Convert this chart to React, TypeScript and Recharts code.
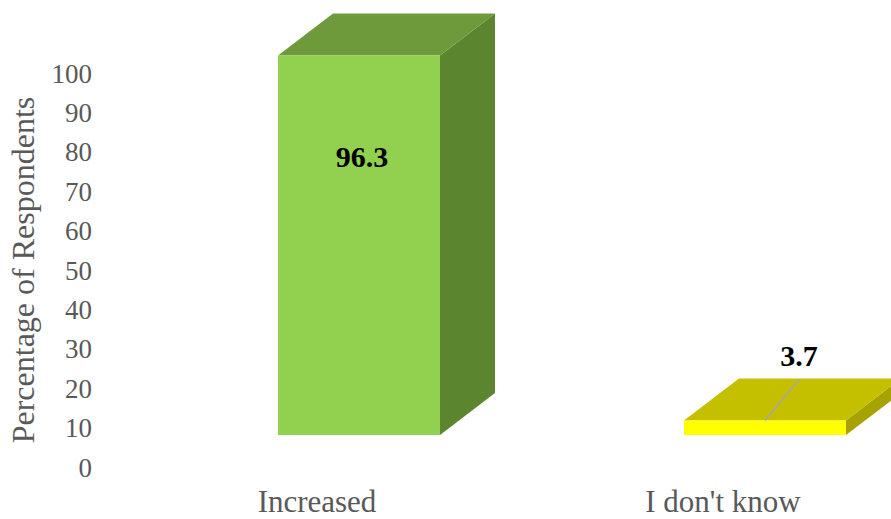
import { BarChart, Bar, XAxis, YAxis } from 'recharts'

const categories = ['Increased', "I don't know"]
const percentages = [96.3, 3.7]
const yTicks = [0, 10, 20, 30, 40, 50, 60, 70, 80, 90, 100]

const frontColors = ['#92d050', '#ffff00']
const topColors = ['#6f9a3b', '#c4c000']
const sideColors = ['#5c8530', '#a6a200']

const data = categories.map((name, i) => ({ name, value: percentages[i] }))

const FONT = '"Liberation Serif", "Times New Roman", serif'
// depth of the fake 3D extrusion, and how far the front floor sits above the 0 tick
const DX = 55
const DY = 42
const FLOOR = 32

const Bar3D = (props: any) => {
  const { x, y, width, height, index, payload } = props
  const top = y - FLOOR
  const bottom = y + height - FLOOR
  const right = x + width
  const cx = x + width / 2
  const big = index === 0
  return (
    <g>
      <polygon
        points={`${right},${top} ${right + DX},${top - DY} ${right + DX},${bottom - DY} ${right},${bottom}`}
        fill={sideColors[index]}
      />
      <polygon
        points={`${x},${top} ${x + DX},${top - DY} ${right + DX},${top - DY} ${right},${top}`}
        fill={topColors[index]}
      />
      <rect x={x} y={top} width={width} height={bottom - top} fill={frontColors[index]} />
      {big ? (
        <text x={cx + 3} y={top + 111} textAnchor="middle" fontFamily={FONT} fontSize={30} fontWeight="bold" fill="#000">
          {payload.value}
        </text>
      ) : (
        <g>
          <line x1={cx} y1={top} x2={cx + 34} y2={top - DY + 1} stroke="#a6a6a6" strokeWidth={1.5} />
          <text x={cx + 34} y={top - DY - 12} textAnchor="middle" fontFamily={FONT} fontSize={30} fontWeight="bold" fill="#000">
            {payload.value}
          </text>
        </g>
      )}
    </g>
  )
}

const CategoryTick = ({ x, y, payload }: any) => (
  <text x={x - 42} y={y + 37} textAnchor="middle" fontFamily={FONT} fontSize={31} fill="#595959">
    {payload.value}
  </text>
)

export default function App() {
  return (
    <div style={{ position: 'absolute', left: 0, top: 0, width: 891, height: 519, overflow: 'hidden', background: '#fff' }}>
      <BarChart
        width={891}
        height={519}
        data={data}
        margin={{ top: 73, right: -77, left: 0, bottom: 0 }}
        barSize={162}
      >
        <XAxis
          dataKey="name"
          axisLine={false}
          tickLine={false}
          height={52}
          interval={0}
          tick={<CategoryTick />}
        />
        <YAxis
          domain={[0, 100]}
          ticks={yTicks}
          width={156}
          axisLine={false}
          tickLine={false}
          tickSize={0}
          tickMargin={64}
          tick={{ fill: '#595959', fontSize: 27, fontFamily: FONT }}
          label={{
            content: () => (
              <text
                x={34}
                y={270}
                transform="rotate(-90, 34, 270)"
                textAnchor="middle"
                fontFamily={FONT}
                fontSize={32}
                fill="#595959"
              >
                Percentage of Respondents
              </text>
            ),
          }}
        />
        <Bar dataKey="value" shape={<Bar3D />} isAnimationActive={false} />
      </BarChart>
    </div>
  )
}
